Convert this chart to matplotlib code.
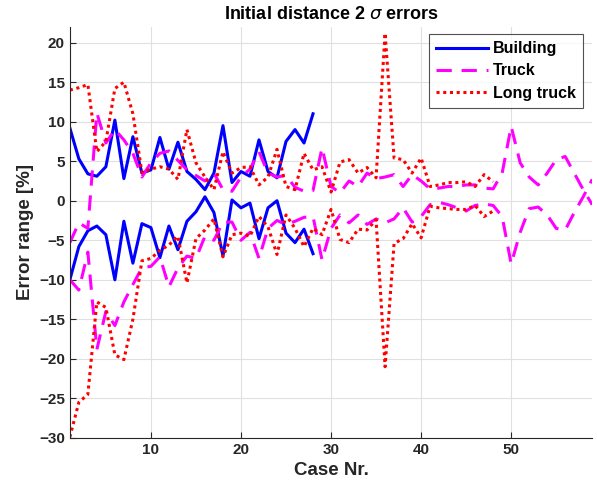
import matplotlib
matplotlib.use("Agg")
import matplotlib.pyplot as plt
import numpy as np

plt.rcParams['font.family'] = ['Liberation Sans', 'DejaVu Sans']

# ---------------- data ----------------
building_upper = [9.2, 5.3, 3.4, 3.1, 4.3, 10.2, 2.8, 8.1, 3.5, 3.9,
                  8.0, 4.0, 7.4, 3.7, 2.7, 1.4, 3.5, 9.5, 2.3, 3.7,
                  3.1, 7.7, 3.7, 2.9, 7.5, 9.0, 7.3, 11.0]
building_lower = [-10.0, -5.8, -3.8, -3.2, -4.3, -10.0, -2.6, -7.9, -2.9, -3.4,
                  -7.2, -3.2, -6.2, -2.6, -1.4, 0.5, -1.5, -7.0, 0.1, -0.9,
                  -0.3, -4.8, -0.9, 0.0, -4.1, -5.3, -3.6, -6.7]

truck_upper = [-5.3, -2.8, -3.5, 11.1, 7.3, 9.0, 7.7, 6.0, 3.0, 4.8,
               6.0, 6.3, 5.1, 3.9, 3.2, 2.5, 3.5, 1.4, 1.2, 3.0,
               4.0, 6.2, 3.5, 3.0, 3.2, 1.7, 1.2, 1.3, 6.7, 1.8,
               1.0, 2.5, 1.8, 3.5, 2.8, 3.0, 3.3, 1.8, 3.3, 2.5,
               1.5, 1.6, 1.8, 1.8, 2.0, 2.0, 1.6, 1.5, 3.5, 9.4,
               4.8, 3.0, 2.0, 3.5, 5.2, 5.6, 3.5, 1.4, -0.5]
truck_lower = [-10.0, -11.3, -6.5, -18.8, -14.0, -15.8, -12.8, -10.6, -8.5, -8.3,
               -7.1, -10.9, -8.5, -7.0, -7.3, -4.5, -5.0, -2.7, -2.7, -5.0,
               -4.0, -7.3, -3.5, -2.5, -3.0, -2.6, -2.1, -2.0, -7.5, -3.5,
               -1.8, -2.8, -1.8, -3.0, -2.3, -2.8, -2.3, -0.9, -2.7, -2.0,
               -0.5, -0.2, -0.5, -0.9, -1.3, -0.6, -0.4, -0.6, -2.0, -8.0,
               -4.0, -1.0, -0.8, -1.8, -3.5, -3.7, -1.5, 0.5, 2.7]

long_upper = [14.0, 14.3, 14.7, 6.2, 7.5, 14.2, 15.0, 11.0, 3.6, 4.0,
              4.3, 4.0, 2.7, 9.0, 4.8, 3.0, 1.4, 6.2, 3.5, 4.2,
              4.3, 2.0, 3.0, 6.5, 1.8, 1.4, 6.0, 3.9, 4.3, 1.1,
              4.9, 5.2, 3.5, 4.2, 2.9, 21.2, 5.4, 5.2, 3.5, 5.4,
              1.8, 2.0, 2.3, 2.3, 2.4, 1.8, 3.3, 2.4]
long_lower = [-29.9, -25.5, -24.5, -12.8, -13.5, -19.5, -20.1, -15.0, -7.6, -7.3,
              -6.3, -5.6, -4.5, -10.4, -4.8, -3.7, -2.3, -7.1, -4.3, -4.1,
              -4.5, -2.0, -3.3, -6.8, -1.8, -3.5, -5.8, -3.5, -4.3, -1.1,
              -4.9, -5.3, -3.6, -3.7, -2.4, -21.0, -5.4, -4.8, -2.9, -4.7,
              -0.7, -0.9, -1.0, -1.1, -1.1, -0.6, -2.0, -1.3]

series_names = ['Building', 'Truck', 'Long truck']
xticks = [10, 20, 30, 40, 50]
yticks = [-30, -25, -20, -15, -10, -5, 0, 5, 10, 15, 20]

# ---------------- figure ----------------
fig = plt.figure(figsize=(5.97, 4.97), dpi=100)
ax = fig.add_axes([0.117, 0.119, 0.875, 0.827])

xb = np.arange(1, len(building_upper) + 1)
xt = np.arange(1, len(truck_upper) + 1)
xl = np.arange(1, len(long_upper) + 1)

lw = 2.2
dash = (0, (5, 3.2))
dot = (0, (1, 1.2))
ax.plot(xb, building_upper, color=(0, 0, 1), lw=lw, ls='-', label=series_names[0])
ax.plot(xb, building_lower, color=(0, 0, 1), lw=lw, ls='-')
ax.plot(xt, truck_upper, color=(1, 0, 1), lw=lw, ls=dash, label=series_names[1])
ax.plot(xt, truck_lower, color=(1, 0, 1), lw=lw, ls=dash)
ax.plot(xl, long_upper, color=(1, 0, 0), lw=lw, ls=dot, label=series_names[2])
ax.plot(xl, long_lower, color=(1, 0, 0), lw=lw, ls=dot)

ax.set_xlim(1, 59)
ax.set_ylim(-30, 22)
ax.set_xticks(xticks)
ax.set_yticks(yticks)
ax.grid(True, color='#e0e0e0', lw=0.8)
ax.set_axisbelow(True)

for s in ['top', 'right']:
    ax.spines[s].set_visible(False)
for s in ['left', 'bottom']:
    ax.spines[s].set_color('#262626')
    ax.spines[s].set_linewidth(0.8)

ax.tick_params(direction='in', length=4, width=0.8, colors='#262626',
               labelsize=11, labelcolor='#262626')
for lab in ax.get_xticklabels() + ax.get_yticklabels():
    lab.set_fontweight('bold')

ax.set_title('Initial distance 2 $\\sigma$ errors', fontsize=13, fontweight='bold',
             color='#000000', pad=6)
ax.set_xlabel('Case Nr.', fontsize=13.5, fontweight='bold', color='#262626')
ax.set_ylabel('Error range [%]', fontsize=13.5, fontweight='bold', color='#262626')

leg = ax.legend(loc='upper right', bbox_to_anchor=(0.9985, 1.002),
                prop={'weight': 'bold', 'size': 11.5}, frameon=True, fancybox=False,
                handlelength=3.3, borderpad=0.45, labelspacing=0.45, handletextpad=0.3,
                borderaxespad=0.5)
leg.get_frame().set_edgecolor('#262626')
leg.get_frame().set_linewidth(0.8)

fig.savefig('out.png', dpi=100)
